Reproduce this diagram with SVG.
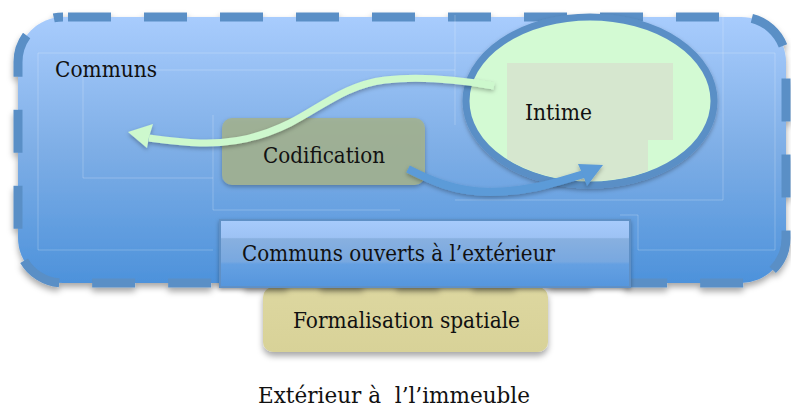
<svg xmlns="http://www.w3.org/2000/svg" width="791" height="410" viewBox="0 0 791 410">
<style>
  .lbl { font-family: "DejaVu Serif", "Liberation Serif", serif; font-size: 22px; fill: #111; white-space: pre; }
  .faint { fill: none; stroke: #ffffff; stroke-opacity: 0.22; stroke-width: 1; }
</style>
<defs>
  <linearGradient id="gBig" x1="0" y1="0" x2="0" y2="1">
    <stop offset="0" stop-color="#a8ccfd"/>
    <stop offset="0.5" stop-color="#7eaee6"/>
    <stop offset="1" stop-color="#4d92db"/>
  </linearGradient>
  <linearGradient id="gOpen" x1="0" y1="0" x2="0" y2="1">
    <stop offset="0" stop-color="#a7cbfc"/>
    <stop offset="0.26" stop-color="#9dc2f4"/>
    <stop offset="0.28" stop-color="#88b0e0"/>
    <stop offset="0.62" stop-color="#78a8e0"/>
    <stop offset="0.66" stop-color="#65a0e2"/>
    <stop offset="1" stop-color="#5596dd"/>
  </linearGradient>
  <linearGradient id="gForm" x1="0" y1="0" x2="0" y2="1">
    <stop offset="0" stop-color="#ddd7a0"/>
    <stop offset="1" stop-color="#d8d298"/>
  </linearGradient>
  <clipPath id="clipEll">
    <ellipse cx="590" cy="101" rx="120" ry="80"/>
  </clipPath>
  <filter id="sh" x="-10%" y="-10%" width="120%" height="130%">
    <feDropShadow dx="0" dy="4" stdDeviation="3" flood-color="#000" flood-opacity="0.35"/>
  </filter>
  <filter id="shs" x="-10%" y="-20%" width="120%" height="150%">
    <feDropShadow dx="0" dy="2" stdDeviation="2" flood-color="#000" flood-opacity="0.3"/>
  </filter>
</defs>

<g id="formalisation">
  <rect x="263" y="287" width="285" height="65" rx="10" fill="url(#gForm)" filter="url(#sh)"/>
  <text class="lbl" x="293" y="328" textLength="227" lengthAdjust="spacingAndGlyphs">Formalisation spatiale</text>
</g>

<g id="communs">
  <rect x="18" y="17" width="768" height="266" rx="45" fill="url(#gBig)" stroke="#5a8fc6" stroke-width="9" stroke-dasharray="43 33" stroke-dashoffset="71" filter="url(#sh)"/>
  <g id="faint-lines">
    <path class="faint" d="M38 53 H775 V250 M38 53 V250 H213"/>
    <path class="faint" d="M83 70 H455 M83 70 V178 H213"/>
    <path class="faint" d="M455 15 V125 M723 15 V200 H455 M213 115 V210 H400"/>
    <path class="faint" d="M620 215 H638 V250 H775"/>
  </g>
  <text class="lbl" x="55" y="77" textLength="102" lengthAdjust="spacingAndGlyphs">Communs</text>
</g>

<g id="intime">
  <ellipse cx="590" cy="101" rx="124" ry="84" fill="#d3fad3" stroke="#5a8fc6" stroke-width="7" filter="url(#shs)"/>
  <path d="M507 63 H673 V140 H648 V190 H507 Z" fill="#d6e7cf" clip-path="url(#clipEll)"/>
  <text class="lbl" x="525" y="120" textLength="67" lengthAdjust="spacingAndGlyphs">Intime</text>
</g>

<g id="codification">
  <rect x="222" y="118" width="203" height="67" rx="10" fill="#a2b191" fill-opacity="0.9" filter="url(#shs)"/>
  <text class="lbl" x="263" y="163" textLength="122" lengthAdjust="spacingAndGlyphs">Codification</text>
</g>

<g id="communs-ouverts">
  <rect x="220" y="220" width="410" height="67" fill="url(#gOpen)" stroke="#5f90c6" stroke-width="2" filter="url(#shs)"/>
  <text class="lbl" x="242" y="261" textLength="313" lengthAdjust="spacingAndGlyphs">Communs ouverts à l’extérieur</text>
</g>

<g id="connectors">
  <g filter="url(#shs)">
    <path d="M494 86 C460 80, 420 76, 385 80 C345 85, 320 108, 290 123 C260 138, 230 144, 200 143 C180 142, 165 140, 149 138" fill="none" stroke="#cdf8cd" stroke-width="7"/>
    <polygon points="128,132 153,124 149,137 147,148" fill="#cdf8cd"/>
  </g>
  <g filter="url(#shs)">
    <path d="M408 169 C430 180, 455 192, 490 192 C530 192, 560 181, 584 174" fill="none" stroke="#5b9bd8" stroke-width="8"/>
    <polygon points="603,165 578,164 583,175 587,186" fill="#5b9bd8"/>
  </g>
</g>

<g id="exterieur">
  <text class="lbl" x="258" y="403" textLength="272" lengthAdjust="spacingAndGlyphs" xml:space="preserve">Extérieur à  l’l’immeuble</text>
</g>
</svg>
